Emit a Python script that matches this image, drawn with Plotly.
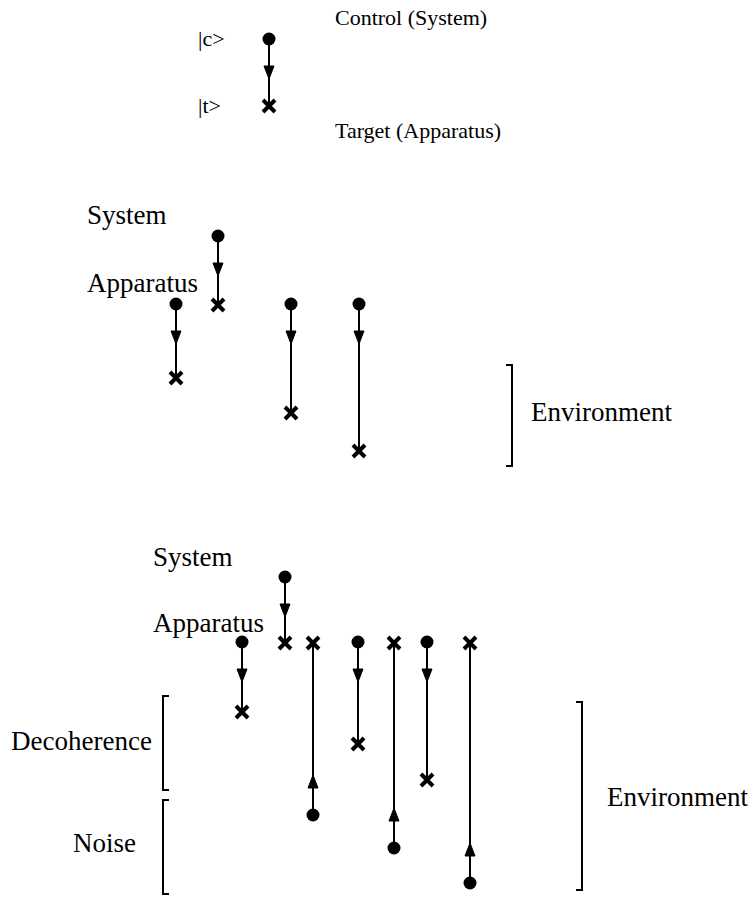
import plotly.graph_objects as go

# ---- data (pixel-space diagram coordinates) ----
# section 1: legend gate
leg_x = [269]
leg_ctrl_y = [39]
leg_tgt_y = [106]

# section 2: system/apparatus + environment
mid_x = [218, 176, 291, 359]
mid_ctrl_y = [236, 304, 304, 304]
mid_tgt_y = [305, 378, 413, 451]

# section 3: with decoherence and noise
bot_x = [285, 242, 313, 358, 394, 427, 470]
bot_ctrl_y = [577, 642, 815, 642, 848, 642, 883]
bot_tgt_y = [643, 712, 643, 744, 643, 780, 643]

# labels: text, x (left), y (middle), size
label_text = ["|c>", "|t>", "Control (System)", "Target (Apparatus)",
              "System", "Apparatus", "Environment",
              "System", "Apparatus", "Decoherence", "Noise", "Environment"]
label_x = [196, 196, 333, 333, 85, 85, 529, 151, 151, 9, 71, 605]
label_y = [38, 105, 17, 130, 215, 283, 412, 557, 623, 741, 843, 797]
label_size = [22, 22, 22, 22, 27, 27, 27, 27, 27, 27, 27, 27]

# brackets: x, y top, y bottom, tick direction (+1 = "[", -1 = "]")
br_x = [512, 163, 163, 582]
br_y0 = [365, 696, 800, 702]
br_y1 = [466, 790, 894, 890]
br_dir = [-1, 1, 1, -1]

gx = leg_x + mid_x + bot_x
gc = leg_ctrl_y + mid_ctrl_y + bot_ctrl_y
gt = leg_tgt_y + mid_tgt_y + bot_tgt_y

ARROW_OFF = 40
HEAD_LEN = 13
HEAD_HW = 5
TICK = 6

fig = go.Figure()

# wires
lx, ly = [], []
for x, c, t in zip(gx, gc, gt):
    lx += [x, x, None]
    ly += [c, t, None]
fig.add_trace(go.Scatter(x=lx, y=ly, mode="lines",
                         line=dict(color="black", width=2), hoverinfo="skip"))

# arrowheads
ax, ay = [], []
for x, c, t in zip(gx, gc, gt):
    d = 1 if t > c else -1
    tip = c + ARROW_OFF * d
    base = tip - HEAD_LEN * d
    ax += [x - HEAD_HW, x + HEAD_HW, x, x - HEAD_HW, None]
    ay += [base, base, tip, base, None]
fig.add_trace(go.Scatter(x=ax, y=ay, mode="lines", fill="toself",
                         fillcolor="black", line=dict(color="black", width=1),
                         hoverinfo="skip"))

# controls
fig.add_trace(go.Scatter(x=gx, y=gc, mode="markers",
                         marker=dict(symbol="circle", size=13, color="black"),
                         hoverinfo="skip"))
# targets
fig.add_trace(go.Scatter(x=gx, y=gt, mode="markers",
                         marker=dict(symbol="x-thin", size=12,
                                     line=dict(color="black", width=4)),
                         hoverinfo="skip"))

# brackets
bx, by = [], []
for x, y0, y1, d in zip(br_x, br_y0, br_y1, br_dir):
    bx += [x + TICK * d, x, x, x + TICK * d, None]
    by += [y0, y0, y1, y1, None]
fig.add_trace(go.Scatter(x=bx, y=by, mode="lines",
                         line=dict(color="black", width=2), hoverinfo="skip"))

for s, x, y, sz in zip(label_text, label_x, label_y, label_size):
    fig.add_annotation(x=x, y=y, text=s.replace("<", "&lt;").replace(">", "&gt;"),
                       showarrow=False, xanchor="left", yanchor="middle",
                       font=dict(family="Liberation Serif", size=sz, color="black"))

fig.update_layout(
    width=749, height=897, margin=dict(l=0, r=0, t=0, b=0),
    plot_bgcolor="white", paper_bgcolor="white", showlegend=False,
    hovermode=False,
    xaxis=dict(range=[0, 749], visible=False, fixedrange=True),
    yaxis=dict(range=[897, 0], visible=False, fixedrange=True),
)
fig.write_html("out.html", config={"displayModeBar": False},
               post_script="document.body.style.margin='0';document.body.style.overflow='hidden';")
